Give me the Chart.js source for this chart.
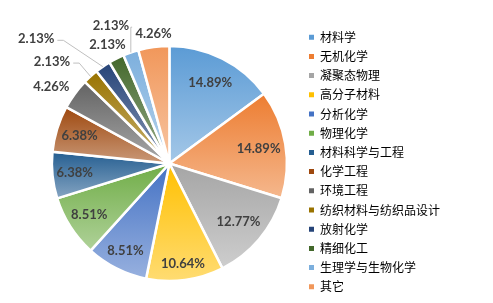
<!DOCTYPE html>
<html>
<head>
<meta charset="utf-8">
<script src="https://cdn.jsdelivr.net/npm/chart.js@4/dist/chart.umd.min.js"></script>
<style>
  html, body { margin: 0; padding: 0; background: #fff; }
  #wrap { width: 493px; height: 303px; }
</style>
</head>
<body>
<div id="wrap"><canvas id="pie-chart"></canvas></div>
<script>
// Chart data
const categories = ['材料学', '无机化学', '凝聚态物理', '高分子材料', '分析化学', '物理化学', '材料科学与工程',
  '化学工程', '环境工程', '纺织材料与纺织品设计', '放射化学', '精细化工', '生理学与生物化学', '其它'];
const shares = [14.89, 14.89, 12.77, 10.64, 8.51, 8.51, 6.38, 6.38, 4.26, 2.13, 2.13, 2.13, 2.13, 4.26];
const percentLabels = ['14.89%', '14.89%', '12.77%', '10.64%', '8.51%', '8.51%', '6.38%', '6.38%',
  '4.26%', '2.13%', '2.13%', '2.13%', '2.13%', '4.26%'];

// Office palette, one colour per slice
const sliceColors = ['#5B9BD5', '#ED7D31', '#A5A5A5', '#FFC000', '#4472C4', '#70AD47', '#255E91',
  '#9E480E', '#636363', '#997300', '#264478', '#43682B', '#7CAFDD', '#F1975A'];

// label placement: distance as fraction of radius, angle nudge in degrees, leader line or not
const labelDist = [0.77, 0.77, 0.77, 0.86, 0.83, 0.81, 0.81, 0.8, 1.2, 1.32, 1.55, 1.14, 1.27, 1.11];
const labelNudge = [0, 0, 0, 0, 0, 0, 0, 0, -3.2, -7, -12.5, -0.7, -3.9, 0.7];
const leaderLine = [false, false, false, false, false, false, false, false, false, true, true, false, true, false];

const PIE_RADIUS = 117.5;

function lighten(hex, t) {
  const n = parseInt(hex.slice(1), 16);
  const r = n >> 16, g = (n >> 8) & 255, b = n & 255;
  const mix = c => Math.round(c + (255 - c) * t);
  return `rgb(${mix(r)}, ${mix(g)}, ${mix(b)})`;
}

// Gradient over each slice's own bounding box, base colour on top, lighter below
function sliceGradient(context) {
  const chart = context.chart;
  const i = context.dataIndex;
  const base = sliceColors[i];
  const area = chart.chartArea;
  if (!area) return base;
  const cy = (area.top + area.bottom) / 2;
  const total = shares.reduce((a, b) => a + b, 0);
  const before = shares.slice(0, i).reduce((a, b) => a + b, 0);
  const start = -Math.PI / 2 + before / total * 2 * Math.PI;
  const end = start + shares[i] / total * 2 * Math.PI;
  const sines = [0, Math.sin(start), Math.sin(end)];
  // top (-pi/2) and bottom (pi/2) of the circle, if inside the slice
  [-Math.PI / 2, Math.PI / 2, 3 * Math.PI / 2].forEach(a => {
    if (a >= start && a <= end) sines.push(Math.sin(a));
  });
  const top = cy + Math.min(...sines) * PIE_RADIUS;
  const bottom = cy + Math.max(...sines) * PIE_RADIUS;
  const g = chart.ctx.createLinearGradient(0, top, 0, bottom + 1);
  g.addColorStop(0, base);
  g.addColorStop(1, lighten(base, 0.45));
  return g;
}

// Draw the percentage labels, with leader lines for the thin slices
const sliceLabels = {
  id: 'sliceLabels',
  afterDatasetsDraw(chart) {
    const { ctx } = chart;
    const meta = chart.getDatasetMeta(0);
    ctx.save();
    ctx.font = 'bold 13px Lato, "Open Sans", sans-serif';
    ctx.fillStyle = '#404040';
    ctx.textAlign = 'center';
    ctx.textBaseline = 'middle';
    meta.data.forEach((arc, i) => {
      const mid = (arc.startAngle + arc.endAngle) / 2;
      const ang = mid + labelNudge[i] * Math.PI / 180;
      const r = arc.outerRadius;
      const lx = arc.x + Math.cos(ang) * r * labelDist[i];
      const ly = arc.y + Math.sin(ang) * r * labelDist[i];
      ctx.fillText(percentLabels[i], lx, ly);
      if (leaderLine[i]) {
        const w = ctx.measureText(percentLabels[i]).width;
        const ex = arc.x + Math.cos(mid) * r;
        const ey = arc.y + Math.sin(mid) * r;
        const endX = lx + w / 2 + 3;
        const elbowX = Math.min(endX + 6, ex);
        ctx.beginPath();
        ctx.strokeStyle = '#bfbfbf';
        ctx.lineWidth = 1;
        ctx.moveTo(ex, ey);
        ctx.lineTo(elbowX, ly + 1);
        ctx.lineTo(endX, ly + 1);
        ctx.stroke();
      }
    });
    ctx.restore();
  }
};

new Chart(document.getElementById('pie-chart'), {
  type: 'pie',
  data: {
    labels: categories,
    datasets: [{
      data: shares,
      backgroundColor: sliceGradient,
      borderColor: '#ffffff',
      borderWidth: 2.5,
      radius: PIE_RADIUS,
    }],
  },
  options: {
    responsive: true,
    maintainAspectRatio: false,
    animation: false,
    layout: { padding: { left: 37, right: 43, top: 24, bottom: -4 } },
    plugins: {
      legend: {
        position: 'right',
        align: 'start',
        labels: {
          boxWidth: 5,
          boxHeight: 5,
          padding: 7.2,
          color: '#595959',
          font: { size: 12, family: '"Noto Sans CJK SC", sans-serif' },
          generateLabels(chart) {
            return categories.map((c, i) => ({
              text: c,
              fillStyle: sliceColors[i],
              strokeStyle: sliceColors[i],
              lineWidth: 0,
              index: i,
              datasetIndex: 0,
            }));
          },
        },
      },
      tooltip: { enabled: false },
    },
  },
  plugins: [sliceLabels],
});
</script>
</body>
</html>
